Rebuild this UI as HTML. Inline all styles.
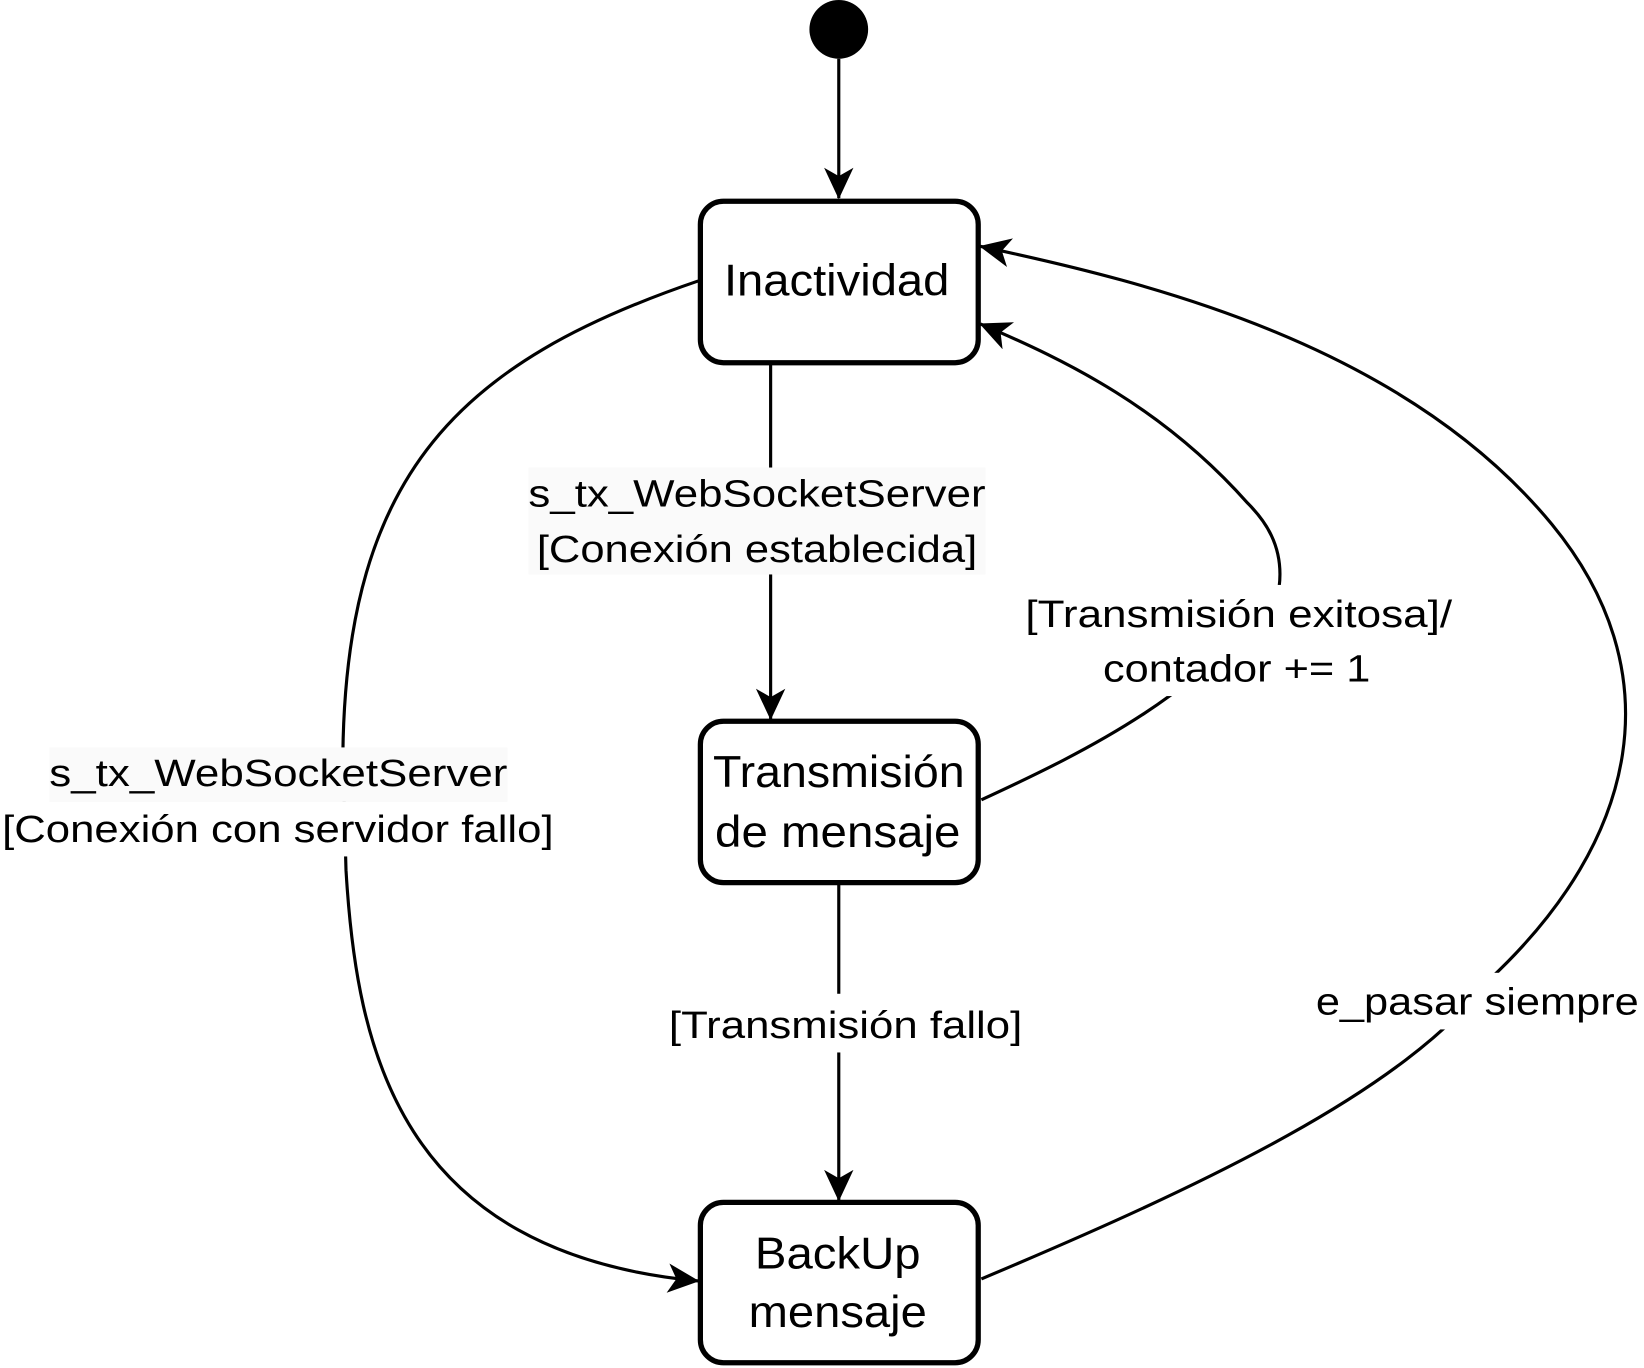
<!DOCTYPE html>
<html><head><meta charset="utf-8"><style>
html,body{margin:0;padding:0;background:#fff}
svg{display:block}
text{font-family:"Liberation Sans",sans-serif;fill:#000}
</style></head><body>
<svg width="1644" height="1368" viewBox="0 0 1568 1305" preserveAspectRatio="none" xmlns="http://www.w3.org/2000/svg">
<defs>
<marker id="a" viewBox="0 0 30 28" refX="29" refY="14" markerWidth="30" markerHeight="28" markerUnits="userSpaceOnUse" orient="auto">
<path d="M0,0 L30,14 L0,28 L8,14 Z" fill="#000"/>
</marker>
</defs>
<g fill="none" stroke="#000" stroke-width="3">
<line x1="800" y1="56" x2="800" y2="189" marker-end="url(#a)"/>
<line x1="735" y1="347" x2="735" y2="686" marker-end="url(#a)"/>
<line x1="800" y1="843" x2="800" y2="1145" marker-end="url(#a)"/>
<path d="M666,268 C440,345 330,450 327,720 L330,830 C340,1000 380,1195 666,1222" marker-end="url(#a)"/>
<path d="M936,763 C1040,715 1150,660 1220,560 C1225,520 1205,495 1190,480 C1110,390 1020,345 935,309" marker-end="url(#a)"/>
<path d="M936,1220 C1150,1130 1340,1040 1420,935 C1565,800 1595,640 1480,500 C1340,330 1100,270 935,235" marker-end="url(#a)"/>
</g>
<circle cx="800" cy="28" r="28" fill="#000"/>
<g fill="#fff" stroke="#000" stroke-width="5">
<rect x="668" y="192" width="265" height="154" rx="22"/>
<rect x="668" y="688" width="265" height="154" rx="22"/>
<rect x="668" y="1147" width="265" height="153" rx="22"/>
</g>
<g font-size="42" text-anchor="middle" lengthAdjust="spacingAndGlyphs">
<text x="798" y="282" textLength="215" lengthAdjust="spacingAndGlyphs">Inactividad</text>
<text x="800" y="751" textLength="240" lengthAdjust="spacingAndGlyphs">Transmisión</text>
<text x="799" y="808" textLength="234" lengthAdjust="spacingAndGlyphs">de mensaje</text>
<text x="799" y="1210" textLength="158" lengthAdjust="spacingAndGlyphs">BackUp</text>
<text x="799" y="1266" textLength="170" lengthAdjust="spacingAndGlyphs">mensaje</text>
</g>
<rect x="504" y="446" width="436" height="102" fill="#fafafa"/>
<rect x="47" y="713" width="437" height="52" fill="#fafafa"/>
<rect x="0" y="765" width="530" height="52" fill="#fff"/>
<rect x="975" y="558" width="412" height="106" fill="#fff"/>
<rect x="636" y="948" width="340" height="56" fill="#fff"/>
<rect x="1252" y="928" width="316" height="54" fill="#fff"/>
<g font-size="36" text-anchor="start">
<text x="504" y="483" textLength="436" lengthAdjust="spacingAndGlyphs">s_tx_WebSocketServer</text>
<text x="512" y="536" textLength="420" lengthAdjust="spacingAndGlyphs">[Conexión establecida]</text>
<text x="47" y="750" textLength="437" lengthAdjust="spacingAndGlyphs">s_tx_WebSocketServer</text>
<text x="2" y="803" textLength="526" lengthAdjust="spacingAndGlyphs">[Conexión con servidor fallo]</text>
<text x="978" y="598" textLength="407" lengthAdjust="spacingAndGlyphs">[Transmisión exitosa]/</text>
<text x="1052" y="650" textLength="255" lengthAdjust="spacingAndGlyphs">contador += 1</text>
<text x="638" y="990" textLength="337" lengthAdjust="spacingAndGlyphs">[Transmisión fallo]</text>
<text x="1255" y="968" textLength="308" lengthAdjust="spacingAndGlyphs">e_pasar siempre</text>
</g>
</svg>
</body></html>
